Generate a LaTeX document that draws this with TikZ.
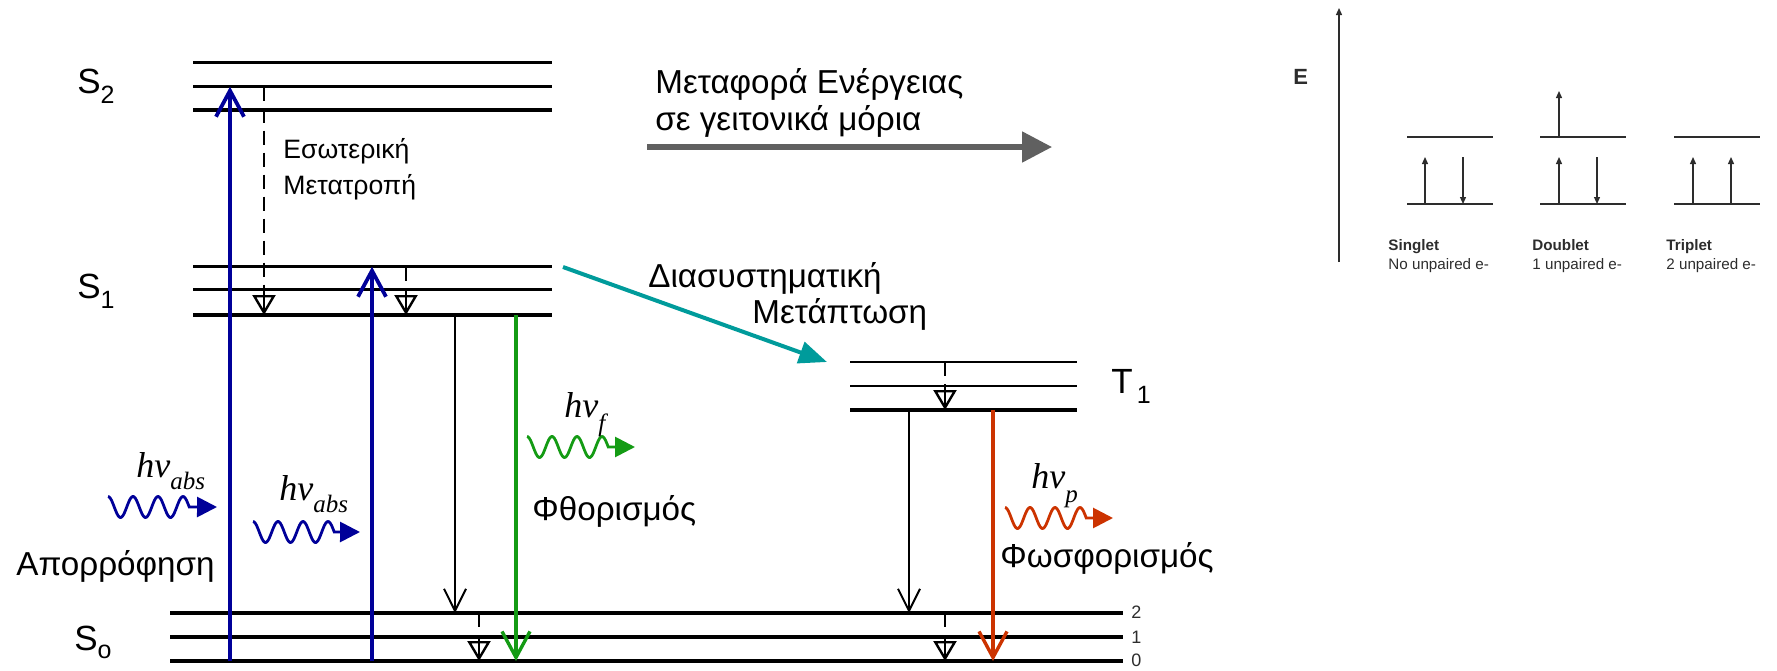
\documentclass[tikz,border=0pt]{standalone}
\usepackage{fontspec}
\setmainfont{Liberation Sans}
\newfontfamily\tnr{Liberation Serif}
\usetikzlibrary{arrows.meta}
\definecolor{absblue}{RGB}{0,0,153}
\definecolor{flgreen}{RGB}{20,155,20}
\definecolor{phred}{RGB}{204,51,0}
\definecolor{iscteal}{RGB}{0,155,155}
\definecolor{etgray}{RGB}{96,96,96}
\definecolor{pangray}{RGB}{45,45,45}
\begin{document}
\begin{tikzpicture}[x=0.5pt,y=-0.5pt,
  lvlthin/.style={line width=1.4pt},
  lvlthick/.style={line width=2.1pt},
  txt/.style={anchor=base west,inner sep=0pt,font=\fontsize{16.6}{19}\selectfont},
  txtsmall/.style={anchor=base west,inner sep=0pt,font=\fontsize{13.3}{16}\selectfont},
  slab/.style={anchor=base west,inner sep=0pt,font=\fontsize{17.5}{20}\selectfont},
  hvlab/.style={anchor=base west,inner sep=0pt,font=\tnr\itshape\fontsize{18}{21}\selectfont},
  barbbig/.style={-{Straight Barb[length=13pt,width=14pt]}},
  barbsmall/.style={-{Straight Barb[length=11pt,width=11pt]}},
  icdash/.style={line width=1.2pt,dash pattern=on 7pt off 4pt},
  icline/.style={line width=1.2pt},
  ictip/.style={line width=1.2pt,-{Triangle[open,length=10pt,width=11.5pt]}},
  photon/.style={line width=1.4pt,-{Triangle[length=10pt,width=10pt]}},
  pan/.style={pangray,line width=0.6pt},
  panarrow/.style={pangray,line width=0.6pt,-{Triangle[length=3.5pt,width=3pt]}},
  pantxt/.style={anchor=base west,inner sep=0pt,text=pangray,font=\fontsize{7.6}{9}\selectfont},
]
\useasboundingbox (0,0) rectangle (1777,670);

% ---------- energy levels ----------
\coordinate (S2aL) at (193,62.7);  \coordinate (S2aR) at (552,62.7);
\coordinate (S2bL) at (193,86.7);  \coordinate (S2bR) at (552,86.7);
\coordinate (S2cL) at (193,110.3); \coordinate (S2cR) at (552,110.3);
\coordinate (S1aL) at (193,266.7); \coordinate (S1aR) at (552,266.7);
\coordinate (S1bL) at (193,289.5); \coordinate (S1bR) at (552,289.5);
\coordinate (S1cL) at (193,315);   \coordinate (S1cR) at (552,315);
\coordinate (T1aL) at (850,362);   \coordinate (T1aR) at (1077,362);
\coordinate (T1bL) at (850,386);   \coordinate (T1bR) at (1077,386);
\coordinate (T1cL) at (850,410);   \coordinate (T1cR) at (1077,410);
\coordinate (S0aL) at (170,613);   \coordinate (S0aR) at (1123,613);
\coordinate (S0bL) at (170,637);   \coordinate (S0bR) at (1123,637);
\coordinate (S0cL) at (170,661);   \coordinate (S0cR) at (1123,661);

\draw[lvlthin]  (S2aL) -- (S2aR);
\draw[lvlthin]  (S2bL) -- (S2bR);
\draw[lvlthick] (S2cL) -- (S2cR);
\draw[lvlthin]  (S1aL) -- (S1aR);
\draw[lvlthin]  (S1bL) -- (S1bR);
\draw[lvlthick] (S1cL) -- (S1cR);
\draw[lvlthin]  (T1aL) -- (T1aR);
\draw[lvlthin]  (T1bL) -- (T1bR);
\draw[lvlthick] (T1cL) -- (T1cR);
\draw[lvlthick] (S0aL) -- (S0aR);
\draw[lvlthick] (S0bL) -- (S0bR);
\draw[lvlthick] (S0cL) -- (S0cR);

% state labels
\node[slab] (lS2) at (77,93) {S\raisebox{-5pt}{\fontsize{12.5}{14}\selectfont 2}};
\node[slab] (lS1) at (77,298) {S\raisebox{-5pt}{\fontsize{12.5}{14}\selectfont 1}};
\node[slab] (lS0) at (74,650) {S\raisebox{-4pt}{\fontsize{12.5}{14}\selectfont o}};
\node[slab] (lT1) at (1111,393) {T\hspace{2pt}\raisebox{-5pt}{\fontsize{12.5}{14}\selectfont 1}};
\node[anchor=west,inner sep=0pt,text=pangray,font=\fontsize{9}{10}\selectfont] (v2) at (1131,612) {2};
\node[anchor=west,inner sep=0pt,text=pangray,font=\fontsize{9}{10}\selectfont] (v1) at (1131,637) {1};
\node[anchor=west,inner sep=0pt,text=pangray,font=\fontsize{9}{10}\selectfont] (v0) at (1131,660) {0};

% ---------- absorption ----------
\coordinate (A1s) at (230,661); \coordinate (A1e) at (230,86.7);
\coordinate (A2s) at (372,661); \coordinate (A2e) at (372,266.7);
\draw[absblue,line width=1.9pt,barbbig] (A1s) -- (A1e);
\draw[absblue,line width=1.9pt,barbbig] (A2s) -- (A2e);

% ---------- internal conversion / vibrational relaxation ----------
\coordinate (D1s) at (264,86.7);  \coordinate (D1m) at (264,295); \coordinate (D1e) at (264,315);
\coordinate (D2s) at (406,266.7); \coordinate (D2m) at (406,295); \coordinate (D2e) at (406,315);
\coordinate (D3s) at (945,362);   \coordinate (D3m) at (945,390); \coordinate (D3e) at (945,410);
\coordinate (D4s) at (479,613);   \coordinate (D4m) at (479,641); \coordinate (D4e) at (479,661);
\coordinate (D5s) at (945,613);   \coordinate (D5m) at (945,641); \coordinate (D5e) at (945,661);
\foreach \d in {D1,D2,D3,D4,D5}{
  \draw[icdash] (\d s) -- (\d m);
  \draw[icline] (\d m) -- (\d e);
  \draw[ictip] (\d m) -- (\d e);
}

% ---------- decays ----------
\coordinate (N1s) at (455,315); \coordinate (N1e) at (455,613);
\coordinate (N2s) at (909,410); \coordinate (N2e) at (909,613);
\draw[line width=1pt,barbsmall] (N1s) -- (N1e);
\draw[line width=1pt,barbsmall] (N2s) -- (N2e);
\coordinate (Fs) at (516,315); \coordinate (Fe) at (516,661);
\draw[flgreen,line width=1.7pt,barbbig] (Fs) -- (Fe);
\coordinate (Ps) at (993,410); \coordinate (Pe) at (993,661);
\draw[phred,line width=1.7pt,barbbig] (Ps) -- (Pe);

% intersystem crossing
\coordinate (ISCs) at (563,267); \coordinate (ISCe) at (827,362);
\draw[iscteal,line width=2pt,-{Triangle[length=14pt,width=11pt]}] (ISCs) -- (ISCe);

% energy transfer
\coordinate (ETs) at (647,147); \coordinate (ETe) at (1052,147);
\draw[etgray,line width=2.6pt,-{Triangle[length=15pt,width=15pt]}] (ETs) -- (ETe);

% ---------- photons ----------
\coordinate (W1t) at (217,507);
\draw[absblue,photon] plot[domain=0:3.25,samples=90,smooth] ({108+25*\x},{507-10.5*cos(360*\x)}) -- (W1t);
\coordinate (W2t) at (360,532);
\draw[absblue,photon] plot[domain=0:3.25,samples=90,smooth] ({253+25*\x},{532-10.5*cos(360*\x)}) -- (W2t);
\coordinate (Wft) at (635,447);
\draw[flgreen,photon] plot[domain=0:3.25,samples=90,smooth] ({527+25*\x},{447-10.5*cos(360*\x)}) -- (Wft);
\coordinate (Wpt) at (1113,518);
\draw[phred,photon] plot[domain=0:3.25,samples=90,smooth] ({1005+25*\x},{518-10.5*cos(360*\x)}) -- (Wpt);

\node[hvlab] (hv1) at (136,477) {hv\raisebox{-6pt}{\fontsize{12.5}{14}\selectfont abs}};
\node[hvlab] (hv2) at (279,500) {hv\raisebox{-6pt}{\fontsize{12.5}{14}\selectfont abs}};
\node[hvlab] (hvf) at (564,417) {hv\raisebox{-7pt}{\fontsize{12.5}{14}\selectfont f}};
\node[hvlab] (hvp) at (1031,488) {hv\raisebox{-7pt}{\fontsize{12.5}{14}\selectfont p}};

% ---------- process labels ----------
\node[txtsmall] (tIC1) at (283,158) {Εσωτερική};
\node[txtsmall] (tIC2) at (283,194) {Μετατροπή};
\node[txt] (tET1) at (655,93) {Μεταφορά Ενέργειας};
\node[txt] (tET2) at (655,130) {σε γειτονικά μόρια};
\node[txt] (tISC1) at (648,287) {Διασυστηματική};
\node[txt] (tISC2) at (752,323) {Μετάπτωση};
\node[txt] (tF) at (532,520) {Φθορισμός};
\node[txt] (tA) at (16,575) {Απορρόφηση};
\node[txt] (tP) at (1000,567) {Φωσφορισμός};

% ---------- right panel ----------
\coordinate (Eax0) at (1339,262); \coordinate (Eax1) at (1339,8);
\draw[panarrow] (Eax0) -- (Eax1);
\node[anchor=west,inner sep=0pt,text=pangray,font=\bfseries\fontsize{11}{12}\selectfont] (Elab) at (1293,77) {E};

\foreach \n/\xl in {sg/1407,db/1540,tp/1674}{
  \coordinate (\n HL) at (\xl,137); \coordinate (\n HR) at (\xl+86,137);
  \coordinate (\n LL) at (\xl,204); \coordinate (\n LR) at (\xl+86,204);
  \draw[pan] (\n HL) -- (\n HR);
  \draw[pan] (\n LL) -- (\n LR);
}
% singlet
\coordinate (sgU0) at (1425,204); \coordinate (sgU1) at (1425,157);
\coordinate (sgD0) at (1463,157); \coordinate (sgD1) at (1463,204);
\draw[panarrow] (sgU0) -- (sgU1);
\draw[panarrow] (sgD0) -- (sgD1);
% doublet
\coordinate (dbU0) at (1559,204); \coordinate (dbU1) at (1559,157);
\coordinate (dbD0) at (1597,157); \coordinate (dbD1) at (1597,204);
\coordinate (dbX0) at (1559,137); \coordinate (dbX1) at (1559,91);
\draw[panarrow] (dbU0) -- (dbU1);
\draw[panarrow] (dbD0) -- (dbD1);
\draw[panarrow] (dbX0) -- (dbX1);
% triplet
\coordinate (tpU0) at (1693,204); \coordinate (tpU1) at (1693,157);
\coordinate (tpV0) at (1731,204); \coordinate (tpV1) at (1731,157);
\draw[panarrow] (tpU0) -- (tpU1);
\draw[panarrow] (tpV0) -- (tpV1);

\node[pantxt,font=\bfseries\fontsize{7.6}{9}\selectfont] (sgT) at (1388,250) {Singlet};
\node[pantxt] (sgS) at (1388,269) {No unpaired e-};
\node[pantxt,font=\bfseries\fontsize{7.6}{9}\selectfont] (dbT) at (1532,250) {Doublet};
\node[pantxt] (dbS) at (1532,269) {1 unpaired e-};
\node[pantxt,font=\bfseries\fontsize{7.6}{9}\selectfont] (tpT) at (1666,250) {Triplet};
\node[pantxt] (tpS) at (1666,269) {2 unpaired e-};
\end{tikzpicture}
\end{document}
